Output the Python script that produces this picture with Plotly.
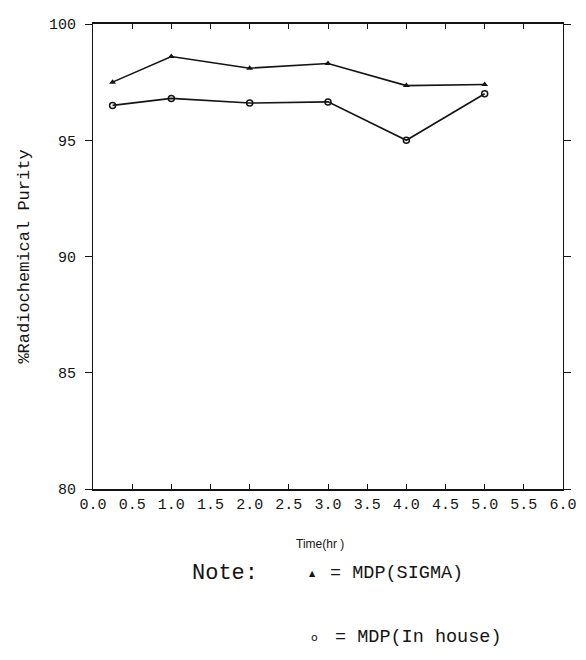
import plotly.graph_objects as go

# ---- data ----
time_hr = [0.25, 1.0, 2.0, 3.0, 4.0, 5.0]
mdp_sigma = [97.5, 98.6, 98.1, 98.3, 97.35, 97.4]
mdp_in_house = [96.5, 96.8, 96.6, 96.65, 95.0, 97.0]

x_tickvals = [0.0, 0.5, 1.0, 1.5, 2.0, 2.5, 3.0, 3.5, 4.0, 4.5, 5.0, 5.5, 6.0]
x_ticktext = ["0.0", "0.5", "1.0", "1.5", "2.0", "2.5", "3.0", "3.5",
              "4.0", "4.5", "5.0", "5.5", "6.0"]
y_tickvals = [80, 85, 90, 95, 100]
y_ticktext = ["80", "85", "90", "95", "100"]

# page body adds an 8px margin, so the figure is drawn 8px smaller
W, H = 578, 652
L, R, T, B = 85, 16, 9, 171

def px(x):
    return (x - L) / (W - L - R)

def py(y):
    return (H - B - y) / (H - T - B)

INK = "#141414"

fig = go.Figure()
fig.add_trace(go.Scatter(
    x=time_hr, y=mdp_sigma, mode="lines+markers", name="MDP(SIGMA)",
    line=dict(color=INK, width=1.6),
    marker=dict(symbol="triangle-up", size=6, color=INK),
    cliponaxis=False,
))
fig.add_trace(go.Scatter(
    x=time_hr, y=mdp_in_house, mode="lines+markers", name="MDP(In house)",
    line=dict(color=INK, width=1.6),
    marker=dict(symbol="circle-open", size=6, color=INK, line=dict(width=1.5)),
    cliponaxis=False,
))

tick_font = dict(family="Liberation Mono", size=15, color=INK)

fig.update_xaxes(
    range=[0, 6], tickvals=x_tickvals, ticktext=x_ticktext,
    ticks="inside", ticklen=5, tickwidth=1.2, tickcolor=INK,
    showline=True, linecolor=INK, linewidth=1.5, mirror="allticks",
    showgrid=False, zeroline=False, tickfont=tick_font,
)
fig.update_yaxes(
    range=[80, 100], tickvals=y_tickvals, ticktext=y_ticktext,
    ticks="outside", ticklen=7, tickwidth=1.2, tickcolor=INK,
    ticklabelstandoff=6,
    showline=True, linecolor=INK, linewidth=1.2, mirror="allticks",
    showgrid=False, zeroline=False, tickfont=tick_font,
    title=dict(text="%Radiochemical Purity",
               font=dict(family="Liberation Mono", size=17, color=INK),
               standoff=14),
)

mono = dict(family="Liberation Mono", size=18.5, color=INK)
annotations = [
    dict(text="Time(hr )", x=px(315), y=py(537), font=dict(family="Liberation Sans", size=12, color=INK)),
    dict(text="Note:", x=px(219), y=py(567), font=dict(family="Liberation Mono", size=22, color=INK)),
    dict(text="▲", x=px(308), y=py(567), font=dict(family="DejaVu Sans", size=8, color=INK)),
    dict(text="= MDP(SIGMA)", x=px(393), y=py(567), font=mono),
    dict(text="o", x=px(310), y=py(632), font=dict(family="DejaVu Sans", size=11, color=INK)),
    dict(text="= MDP(In house)", x=px(415), y=py(632), font=mono),
]
for a in annotations:
    a.update(xref="paper", yref="paper", showarrow=False,
             xanchor="center", yanchor="middle")

fig.update_layout(
    width=W, height=H,
    margin=dict(l=L, r=R, t=T, b=B),
    paper_bgcolor="white", plot_bgcolor="white",
    showlegend=False,
    annotations=annotations,
)

fig.write_html("out.html")
